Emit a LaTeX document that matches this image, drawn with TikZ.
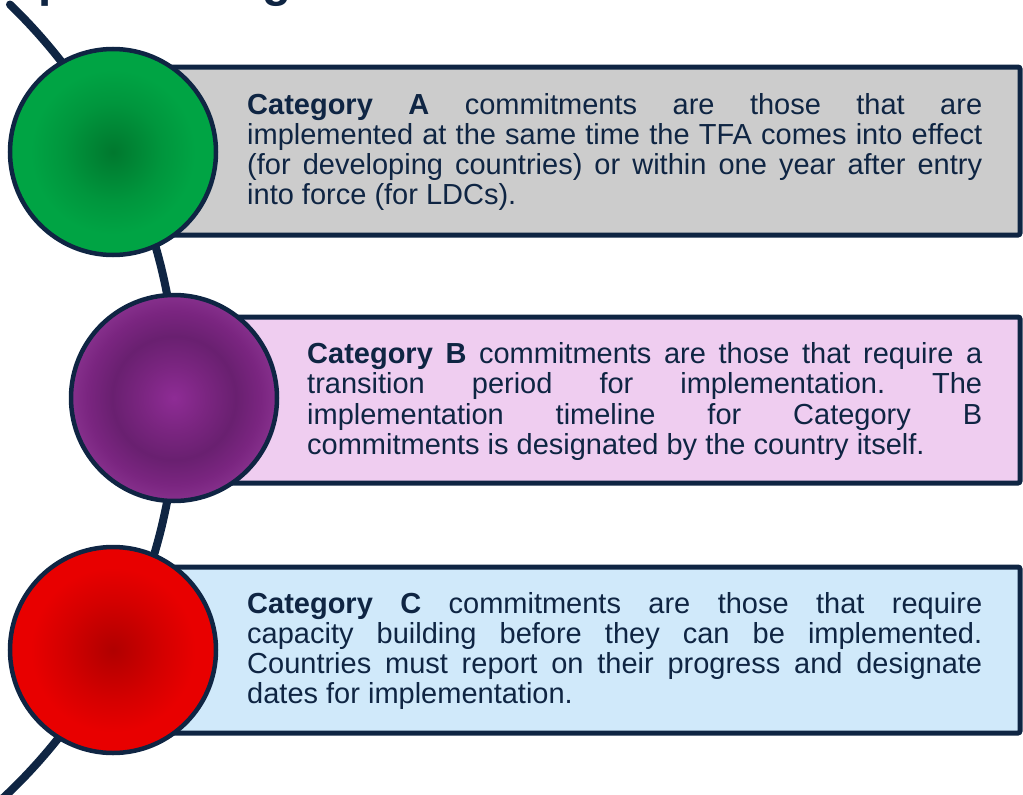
\documentclass[tikz,border=0pt]{standalone}
\usepackage{fontspec}
\setmainfont{Liberation Sans}
\frenchspacing
\definecolor{navy}{HTML}{0F2543}
\definecolor{boxA}{HTML}{CCCCCC}
\definecolor{boxB}{HTML}{EFCDF0}
\definecolor{boxC}{HTML}{D0E9FA}
\definecolor{gA}{HTML}{00782E}
\definecolor{gB}{HTML}{00963D}
\definecolor{gC}{HTML}{00A444}
\definecolor{pA}{HTML}{8E2C95}
\definecolor{pB}{HTML}{7A2580}
\definecolor{pC}{HTML}{692070}
\definecolor{pD}{HTML}{86308C}
\definecolor{rA}{HTML}{B00000}
\definecolor{rB}{HTML}{D40000}
\definecolor{rC}{HTML}{E80000}
\pgfdeclareradialshading{greenball}{\pgfpointorigin}{color(0bp)=(gA); color(12bp)=(gB); color(20bp)=(gC); color(50bp)=(gC)}
\pgfdeclareradialshading{purpleball}{\pgfpointorigin}{color(0bp)=(pA); color(8bp)=(pB); color(15bp)=(pC); color(21bp)=(pB); color(25bp)=(pD); color(50bp)=(pD)}
\pgfdeclareradialshading{redball}{\pgfpointorigin}{color(0bp)=(rA); color(12bp)=(rB); color(20bp)=(rC); color(50bp)=(rC)}
\tikzset{
  catbox/.style={draw=navy, line width=5pt, rounded corners=2pt},
  ball/.style={circle, draw=navy, line width=4.5pt, minimum size=206pt, inner sep=0pt},
  bodytext/.style={anchor=base west, inner sep=0pt, text=navy, font=\fontsize{29}{30.3}\selectfont},
  spine/.style={draw=navy, line width=8pt, line cap=round}
}
\newcommand{\jline}[1]{\makebox[735pt][s]{#1}\\}
\newcommand{\jlineB}[1]{\makebox[675pt][s]{#1}\\}
\begin{document}
\begin{tikzpicture}[x=1pt,y=-1pt]
\useasboundingbox (0,0) rectangle (1023,795);
% title (mostly cut off, as in the reference)
\node[anchor=base west, inner sep=0pt, text=navy, font=\fontsize{47.5}{50}\selectfont\bfseries] (title) at (-17,-4) {Implementing};
% spine
\coordinate (spinetop) at ([shift={(-370,398)}]-46:547);
\draw[spine] (spinetop) arc[start angle=-46, end angle=50, radius=547];
% boxes
\draw[catbox, fill=boxA] (113,67) rectangle (1020,235);
\draw[catbox, fill=boxB] (174,317) rectangle (1020,483);
\draw[catbox, fill=boxC] (113,567) rectangle (1020,733);
% circles
\node[ball, shading=greenball] (cA) at (113,152) {};
\node[ball, shading=purpleball] (cB) at (174,398) {};
\node[ball, shading=redball] (cC) at (113,650) {};
% texts
\node[bodytext] (tA) at (247,114) {\begin{minipage}[t]{735pt}\noindent
\jline{\textbf{Category A} commitments are those that are}
\jline{implemented at the same time the TFA comes into effect}
\jline{(for developing countries) or within one year after entry}
into force (for LDCs).\end{minipage}};
\node[bodytext] (tB) at (307,363.5) {\begin{minipage}[t]{675pt}\noindent
\jlineB{\textbf{Category B} commitments are those that require a}
\jlineB{transition period for implementation. The}
\jlineB{implementation timeline for Category B}
commitments is designated by the country itself.\end{minipage}};
\node[bodytext] (tC) at (247,613) {\begin{minipage}[t]{735pt}\noindent
\jline{\textbf{Category C} commitments are those that require}
\jline{capacity building before they can be implemented.}
\jline{Countries must report on their progress and designate}
dates for implementation.\end{minipage}};
\end{tikzpicture}
\end{document}
